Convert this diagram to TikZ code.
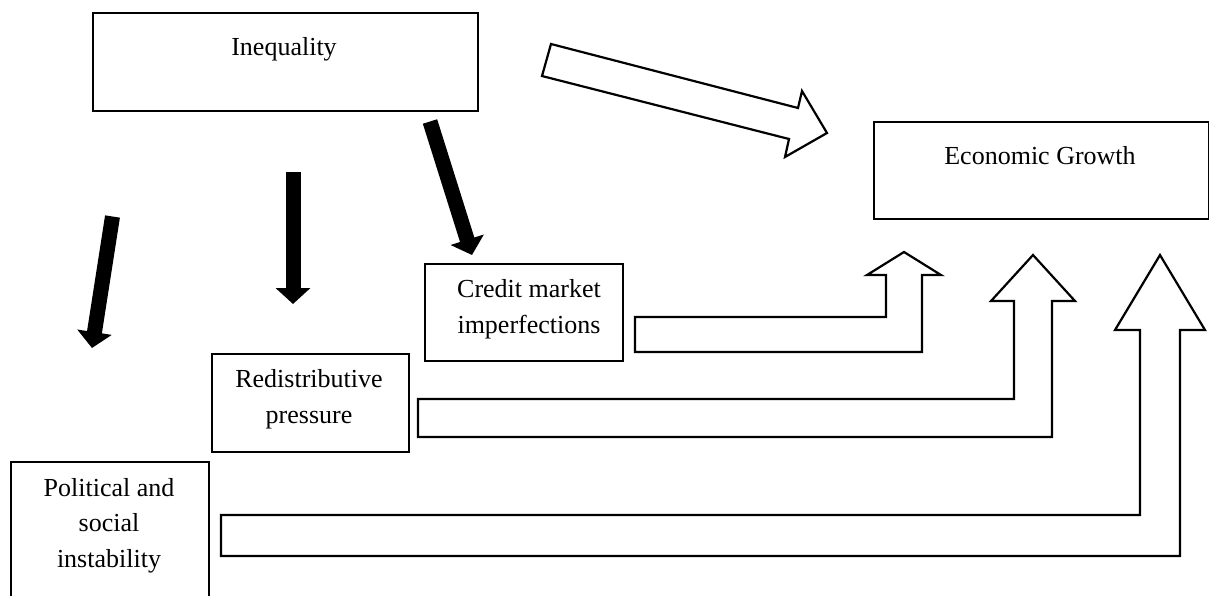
\documentclass[tikz,border=0pt]{standalone}
\usepackage{fontspec}
\setmainfont{Liberation Serif}
\usetikzlibrary{arrows.meta,positioning}

\tikzset{
    box/.style={draw, line width=2.2pt, anchor=north west, inner sep=0pt},
    boxtext/.style={anchor=base, align=center, inner sep=0pt,
        font=\fontsize{26}{35.5}\selectfont},
    fatarrow/.style={line width=15pt, -{Triangle[width=34pt,length=16pt]}},
    hollowarrow/.style={draw, line width=2.2pt, fill=white, line join=miter},
}

\begin{document}
\begin{tikzpicture}[x=1pt, y=-1pt]
\useasboundingbox (0,0) rectangle (1209,595);

% boxes
\node [box, minimum width=385pt, minimum height=98pt] (ineq) at (92,12) {};
\node [box, minimum width=335pt, minimum height=97pt] (growth) at (873,121) {};
\node [box, minimum width=198pt, minimum height=97pt] (credit) at (424,263) {};
\node [box, minimum width=197pt, minimum height=98pt] (redist) at (211,353) {};
\node [box, minimum width=198pt, minimum height=137pt] (polit) at (10,461) {};

% texts (base = baseline of the last line)
\node [boxtext] (ineqtext) at (284,55) {Inequality};
\node [boxtext] (growthtext) at (1040,164) {Economic Growth};
\node [boxtext] (credittext) at (529,333) {Credit market\\imperfections};
\node [boxtext] (redisttext) at (309,423) {Redistributive\\pressure};
\node [boxtext] (polittext) at (109,567) {Political and\\social\\instability};

% black arrows out of inequality
\coordinate (c1) at (430,121.5);
\coordinate (c1tip) at (472,255);
\coordinate (r1) at (293,172);
\coordinate (r1tip) at (293,304);
\coordinate (p1) at (112.5,216.5);
\coordinate (p1tip) at (92,348);
\draw [fatarrow] (c1) -- (c1tip);
\draw [fatarrow] (r1) -- (r1tip);
\draw [fatarrow] (p1) -- (p1tip);

% hollow arrows into growth
\path [hollowarrow] (551,44) -- (798,108) -- (802,91) -- (827,133)
    -- (785,157) -- (789,139) -- (542,76) -- cycle;
\path [hollowarrow] (635,317) -- (886,317) -- (886,275) -- (867,275)
    -- (904,252) -- (941,275) -- (922,275) -- (922,352) -- (635,352) -- cycle;
\path [hollowarrow] (418,399) -- (1014,399) -- (1014,301) -- (991,301)
    -- (1033,255) -- (1075,301) -- (1052,301) -- (1052,437) -- (418,437) -- cycle;
\path [hollowarrow] (221,515) -- (1140,515) -- (1140,330) -- (1115,330)
    -- (1160,255) -- (1205,330) -- (1180,330) -- (1180,556) -- (221,556) -- cycle;
\end{tikzpicture}
\end{document}
